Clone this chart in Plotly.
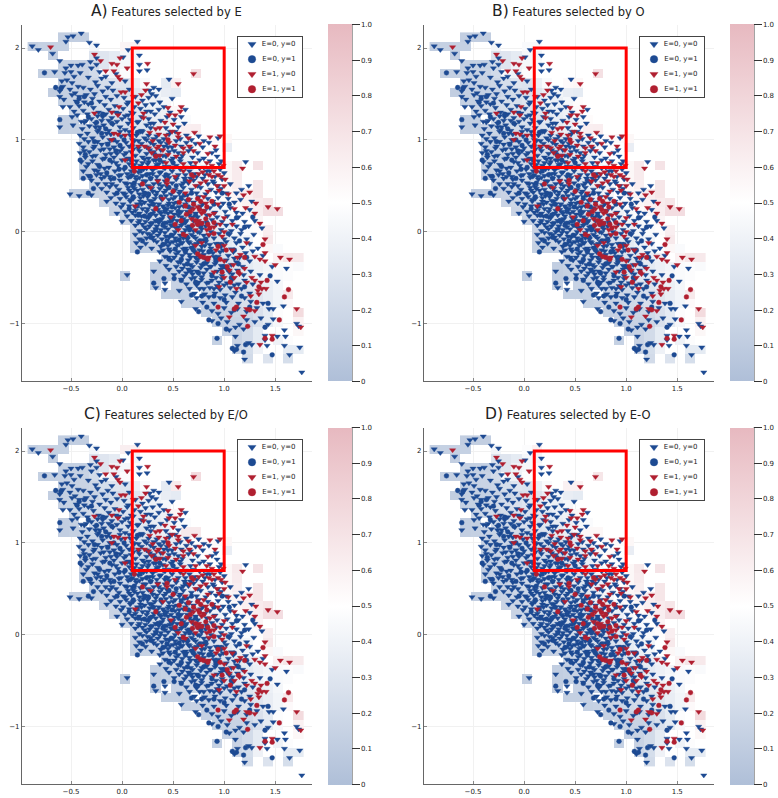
import plotly.graph_objects as go

# ---- data -----------------------------------------------------------------------
e0y0 = [(-.88,2.02),(-.82,1.98),(-.68,1.94),(-.55,2.07),(-.53,2.12),(-.48,2.13),(-.40,2.16),(-.32,2.06),(-.25,2.03),(.15,2.07),(.06,1.98),(.17,1.92),(.01,1.9),
(-.61,1.86),(-.55,1.78),(-.50,1.81),(-.43,1.81),(-.39,1.82),(-.31,1.85),(-.25,1.89),(-.25,1.82),(.17,1.82),(.17,1.75),(.245,1.76),(-.66,1.74),(-.56,1.73),(-.50,1.74),(-.41,1.73),(-.30,1.78),(-.22,1.74),(-.16,1.69),(-.06,1.72),
(-.59,1.64),(-.54,1.65),(-.49,1.62),(-.47,1.69),(-.33,1.68),(-.26,1.63),(-.2,1.67),(-.1,1.62),(.03,1.64),(.46,1.66),(-.43,1.58),(-.58,1.58),
(-.61,1.53),(-.51,1.55),(-.46,1.51),(-.38,1.57),(-.35,1.49),(-.31,1.55),(-.24,1.59),(-.19,1.53),(-.14,1.57),(-.09,1.54),(.07,1.55),(.27,1.54),(.31,1.57),(.36,1.55),(.29,1.5),(-.27,1.5),(-.42,1.47),
(-.61,1.47),(-.57,1.44),(-.49,1.49),(-.37,1.41),(-.29,1.45),(-.22,1.42),(-.16,1.47),(-.11,1.44),(-.05,1.48),(.02,1.46),(.06,1.41),(.13,1.47),(.2,1.43),(.26,1.46),(.33,1.48),(.37,1.41),(.49,1.45),(-.45,1.42),
(-.58,1.36),(-.51,1.36),(-.47,1.31),(-.42,1.37),(-.38,1.32),(-.33,1.39),(-.28,1.35),(-.23,1.3),(-.17,1.38),(-.13,1.33),(-.07,1.37),(-.03,1.29),(.01,1.34),(.05,1.39),(.09,1.3),(.12,1.36),(.18,1.34),(.23,1.38),(.28,1.31),(.3,1.39),(.36,1.33),(.41,1.36),(.47,1.3),(.62,1.33),
(-.49,1.25),(-.44,1.27),(-.4,1.2),(-.34,1.28),(-.3,1.23),(-.24,1.26),(-.2,1.21),(-.16,1.28),(-.1,1.24),(-.05,1.2),(.03,1.26),(.08,1.22),(.11,1.29),(.16,1.2),(.26,1.23),(.32,1.28),(.38,1.21),(.44,1.25),(.51,1.22),(.58,1.25),(-.35,1.21),(-.13,1.21),(.0,1.23),
(-.61,1.14),(-.48,1.16),(-.39,1.12),(-.37,1.19),(-.32,1.15),(-.26,1.18),(-.23,1.11),(-.18,1.16),(-.13,1.1),(-.09,1.17),(-.02,1.14),(.03,1.11),(.06,1.18),(.11,1.13),(.15,1.19),(.19,1.1),(.24,1.16),(.28,1.13),(.31,1.18),(.43,1.13),(.47,1.09),(.55,1.14),(.61,1.18),
(-.41,1.05),(-.37,1.01),(-.34,1.07),(-.29,1.02),(-.24,1.09),(-.19,1.03),(-.15,1.07),(-.12,1.0),(-.01,1.04),(.07,1.09),(.1,1.0),(.14,1.05),(.18,1.09),(.22,1.02),(.26,1.05),(.31,1.01),(.34,1.04),(.41,1.01),(.46,1.06),(.52,1.09),(.57,1.01),(.63,1.05),(.68,1.0),(.75,1.04),(.8,.99),(.94,1.02),
(-.42,.96),(-.38,.92),(-.33,.98),(-.27,.93),(-.24,.98),(-.18,.9),(-.14,.96),(-.08,.92),(-.05,.98),(.0,.91),(.04,.97),(.07,.93),(.12,.99),(.16,.91),(.19,.96),(.24,.92),(.28,.97),(.31,.95),(.36,.99),(.41,.93),(.44,.96),(.49,.92),(.53,.99),(.58,.93),(.63,.97),(.67,.91),(.72,.96),(.79,.92),(.85,.97),(.92,.89),
(-.41,.86),(-.36,.81),(-.32,.87),(-.26,.83),(-.21,.89),(-.17,.8),(-.11,.85),(-.08,.81),(-.02,.88),(.02,.84),(.05,.79),(.09,.87),(.13,.83),(.17,.88),(.2,.81),(.24,.85),(.26,.8),(.31,.87),(.35,.83),(.38,.89),(.43,.82),(.46,.87),(.5,.8),(.55,.86),(.59,.83),(.65,.88),(.69,.81),(.74,.86),(.8,.8),(.88,.86),(.93,.82),(.97,.77),
(-.4,.76),(-.35,.71),(-.29,.77),(-.24,.73),(-.19,.79),(-.13,.7),(-.1,.76),(-.04,.72),(.0,.78),(.07,.74),(.1,.7),(.14,.77),(.18,.72),(.22,.79),(.25,.74),(.28,.7),(.31,.78),(.34,.73),(.4,.76),(.45,.71),(.48,.78),(.53,.72),(.57,.77),(.62,.7),(.67,.75),(.7,.71),(.76,.78),(.8,.7),(.86,.77),(.95,.74),(1.21,.76),
(-.38,.66),(-.33,.61),(-.27,.67),(-.21,.63),(-.17,.69),(-.12,.6),(-.07,.66),(-.03,.61),(.02,.68),(.05,.63),(.09,.66),(.13,.6),(.16,.65),(.2,.61),(.24,.69),(.27,.63),(.3,.67),(.34,.6),(.38,.65),(.42,.69),(.45,.62),(.49,.66),(.53,.59),(.57,.68),(.62,.62),(.66,.66),(.71,.63),(.76,.69),(.81,.62),(.86,.66),(.91,.6),(.96,.68),(1.0,.64),
(-.3,.56),(-.24,.52),(-.2,.58),(-.16,.52),(-.11,.57),(-.06,.5),(-.02,.56),(.03,.53),(.06,.59),(.1,.52),(.14,.57),(.18,.51),(.21,.55),(.25,.5),(.28,.58),(.31,.52),(.35,.56),(.39,.5),(.42,.55),(.46,.59),(.49,.53),(.53,.57),(.58,.51),(.61,.58),(.65,.53),(.7,.56),(.74,.5),(.79,.58),(.84,.52),(.89,.55),(.94,.5),(.98,.57),(1.06,.52),(1.24,.5),
(-.51,.41),(-.42,.39),(-.3,.4),(-.2,.47),(-.15,.43),(-.12,.49),(-.07,.41),(-.03,.46),(.01,.42),(.06,.48),(.09,.43),(.12,.47),(.17,.41),(.2,.46),(.23,.42),(.26,.49),(.3,.44),(.33,.4),(.37,.47),(.41,.43),(.44,.49),(.48,.41),(.52,.46),(.56,.42),(.6,.48),(.64,.4),(.68,.46),(.73,.42),(.77,.48),(.82,.41),(.87,.46),(.92,.43),(.97,.47),(1.02,.42),(1.12,.42),(1.17,.46),
(-.15,.33),(-.11,.37),(-.06,.31),(-.02,.36),(.01,.3),(.04,.38),(.08,.33),(.11,.36),(.15,.3),(.18,.37),(.22,.32),(.25,.38),(.29,.33),(.32,.36),(.36,.3),(.39,.35),(.43,.39),(.46,.31),(.5,.36),(.54,.32),(.58,.38),(.62,.3),(.66,.35),(.7,.32),(.75,.38),(.79,.3),(.84,.36),(.89,.33),(.94,.37),(.99,.31),(1.04,.36),(1.1,.32),(1.16,.35),(1.27,.33),
(-.05,.2),(-.01,.27),(.03,.22),(.07,.28),(.1,.21),(.13,.27),(.17,.2),(.2,.25),(.24,.22),(.27,.29),(.31,.23),(.34,.27),(.38,.2),(.41,.26),(.45,.29),(.48,.22),(.52,.26),(.56,.21),(.6,.28),(.64,.22),(.68,.26),(.72,.2),(.77,.28),(.81,.23),(.86,.26),(.91,.21),(.96,.27),(1.01,.22),(1.06,.26),(1.12,.21),(1.18,.2),(1.25,.24),
(.0,.11),(.05,.17),(.09,.12),(.13,.18),(.16,.1),(.19,.17),(.23,.11),(.26,.15),(.3,.1),(.33,.18),(.37,.13),(.4,.17),(.44,.1),(.47,.15),(.51,.19),(.54,.12),(.58,.16),(.62,.1),(.66,.18),(.7,.12),(.74,.16),(.78,.1),(.83,.18),(.88,.13),(.93,.16),(.98,.11),(1.03,.17),(1.08,.12),(1.14,.16),(1.2,.11),(1.3,.12),
(.13,.07),(.17,.01),(.2,.08),(.24,.03),(.27,.06),(.31,.0),(.34,.06),(.38,.02),(.41,.08),(.45,.03),(.48,.07),(.52,.0),(.55,.05),(.59,.09),(.62,.02),(.66,.06),(.7,.01),(.74,.08),(.78,.03),(.82,.06),(.87,.0),(.92,.08),(.97,.02),(1.02,.07),(1.07,.01),(1.12,.06),(1.17,.02),(1.24,.06),(1.37,.04),
(.13,-.03),(.17,-.08),(.2,-.01),(.24,-.07),(.28,-.03),(.31,-.09),(.35,-.04),(.39,-.08),(.42,-.01),(.46,-.06),(.5,-.03),(.53,-.1),(.57,-.04),(.6,-.01),(.64,-.08),(.68,-.03),(.72,-.07),(.76,-.01),(.8,-.09),(.85,-.04),(.9,-.07),(.95,-.02),(1.0,-.08),(1.05,-.03),(1.1,-.07),(1.16,-.02),(1.22,-.08),(1.29,-.03),
(.14,-.12),(.18,-.17),(.23,-.13),(.29,-.18),(.34,-.11),(.38,-.16),(.42,-.13),(.46,-.19),(.5,-.11),(.54,-.15),(.58,-.12),(.62,-.18),(.65,-.11),(.69,-.17),(.73,-.13),(.78,-.16),(.82,-.11),(.87,-.18),(.92,-.13),(.97,-.16),(1.02,-.11),(1.07,-.19),(1.12,-.12),(1.18,-.17),(1.25,-.13),(1.33,-.18),
(.37,-.22),(.42,-.27),(.47,-.21),(.51,-.28),(.55,-.22),(.59,-.26),(.63,-.2),(.67,-.28),(.71,-.22),(.75,-.26),(.79,-.21),(.84,-.29),(.89,-.23),(.94,-.27),(.99,-.2),(1.04,-.26),(1.09,-.22),(1.15,-.28),(1.21,-.23),(1.28,-.21),(1.38,-.26),
(.37,-.32),(.43,-.37),(.48,-.31),(.53,-.38),(.57,-.33),(.61,-.36),(.65,-.31),(.69,-.38),(.73,-.33),(.78,-.36),(.82,-.3),(.87,-.38),(.92,-.33),(.97,-.37),(1.02,-.31),(1.07,-.36),(1.12,-.33),(1.18,-.38),(1.25,-.32),(1.47,-.38),(1.61,-.40),
(.05,-.47),(.31,-.43),(.46,-.41),(.51,-.47),(.56,-.43),(.61,-.48),(.65,-.41),(.69,-.46),(.73,-.43),(.78,-.49),(.83,-.41),(.88,-.46),(.93,-.43),(.98,-.48),(1.03,-.41),(1.08,-.46),(1.13,-.42),(1.19,-.47),(1.26,-.43),(1.35,-.47),
(.42,-.56),(.58,-.52),(.63,-.57),(.68,-.51),(.73,-.58),(.78,-.52),(.83,-.56),(.88,-.53),(.93,-.59),(.98,-.51),(1.03,-.56),(1.08,-.52),(1.14,-.57),(1.2,-.53),(1.28,-.57),(1.52,-.54),
(.33,-.61),(.42,-.63),(.56,-.64),(.66,-.62),(.71,-.67),(.76,-.62),(.81,-.68),(.86,-.61),(.91,-.67),(.96,-.63),(1.01,-.69),(1.06,-.61),(1.11,-.66),(1.17,-.62),(1.25,-.67),
(.58,-.76),(.73,-.72),(.79,-.77),(.85,-.71),(.9,-.78),(.96,-.72),(1.02,-.77),(1.08,-.71),(1.14,-.78),(1.2,-.72),(1.26,-.76),(1.38,-.78),
(.72,-.84),(.88,-.86),(.94,-.89),(1.0,-.83),(1.07,-.88),(1.13,-.84),(1.22,-.87),(1.32,-.83),(1.44,-.84),(1.48,-.84),(1.58,-.81),
(.88,-.97),(.97,-.94),(1.03,-.98),(1.15,-1.01),(1.22,-.96),(1.3,-.98),(1.43,-1.01),(1.48,-.95),(1.36,-.94),(1.71,-1.0),
(1.05,-1.07),(1.11,-1.04),(1.19,-1.06),(1.59,-1.07),(1.73,-1.03),(1.11,-1.14),(1.4,-1.13),(1.4,-1.18),(1.52,-1.14),(1.6,-1.14),
(1.13,-1.24),(1.24,-1.21),(1.42,-1.24),(1.59,-1.24),(1.74,-1.26),(1.1,-1.3),(1.27,-1.23),(1.64,-1.34),(1.2,-1.39),(1.76,-1.53),
# dense core of the cloud
(-.22,1.14),(-.28,.91),(-.16,.84),(-.06,.75),(.04,.86),(.12,.73),(.21,.68),(.26,.76),(.37,.64),(.11,.49),(.17,.59),(.23,.55),(.29,.47),(.36,.52),(.43,.45),(.52,.38),(.57,.44),(.63,.34),(.03,.41),(.08,.35),(.15,.45),(.21,.39),(.27,.34),(.34,.43),(.4,.28),(.46,.35),(.51,.31),(.56,.27),(.13,.23),(.19,.3),(.24,.16),(.3,.2),(.35,.24),(.39,.14),(.45,.2),(.49,.12),(.55,.18),(.6,.14),(.65,.21),(.17,.12),(.22,.05),(.28,.09),(.33,.03),(.36,.1),(.42,.05),(.47,.11),(.53,.04),(.58,.07),(.63,.12),(.68,.05),(.25,-.02),(.3,-.06),(.37,-.01),(.43,-.05),(.47,-.12),(.52,-.07),(.56,-.14),(.6,-.07),(.66,-.12),(.7,-.05),(.75,-.11),(.8,-.04),(.4,-.2),(.45,-.15),(.53,-.24),(.6,-.19),(.66,-.25),(.7,-.14),(.76,-.2),(.81,-.15),(.87,-.21),(.45,-.28),(.55,-.33),(.59,-.4),(.67,-.36),(.72,-.28),(.77,-.39),(.83,-.34),(.9,-.27),(.96,-.22),(.63,-.45),(.71,-.5),(.8,-.45),(.85,-.55),(.92,-.5),(.97,-.41),(1.05,-.44),(1.1,-.29),(.8,-.62),(.9,-.62),(1.0,-.58),(1.1,-.58),(.1,.62),(.16,.7),(.05,.52),(-.01,.62),(-.1,.52),(-.17,.6),(-.25,.62),(.2,.75),(.3,.63),(.36,.74),(.42,.6),(.47,.7),(.55,.62),(.6,.53),(.67,.58),(.73,.6),(.83,.66),(.9,.53),(.06,.8),(.11,.9),(-.05,.85),(-.12,.9),(-.2,.95),(-.29,.82),(-.37,.88),(-.33,.74),(-.24,.66),(.16,.99),(.27,.89),(.33,.78),(.4,.83),(.51,.88),(.57,.8),(.45,.92),(.38,.97),(.24,1.0),(.08,1.05),(-.02,1.09),(-.11,1.06),(-.26,1.14),(-.19,1.25),(-.06,1.3),(.06,1.27),(.19,1.25),(.24,1.31),(.2,1.09),(.28,1.18),
(.07,.45),(.18,.33),(.31,.3),(.44,.25),(.58,.22),(.69,.16),(.25,.25),(.37,.22),(.5,.15),(.64,.05),(.74,.0),(.33,.12),(.41,.1),(.59,-.12),(.68,-.18),(.74,-.3),(.8,-.25),(.86,-.14),(.91,-.35),(.95,-.13),(.68,-.43),(.75,-.55),(.86,-.38),(.95,-.55)]

e0y1 = [(-.76,1.73),(-.65,1.57),(-.61,1.22),(-.6,1.56),(-.42,1.45),(-.37,1.47),(-.3,1.4),(-.19,1.28),(-.1,1.18),(-.27,.98),(-.2,1.07),(-.14,.95),(-.06,.88),(-.02,.94),(.1,.94),(-.44,1.41),(-.33,1.25),(-.25,1.19),(-.16,1.12),(-.08,1.0),(.02,1.0),(.15,1.08),
(-.41,.78),(-.36,.84),(-.31,.6),(-.28,.47),(-.22,.71),(-.15,.64),(-.08,.58),(.03,.7),(.08,.6),(.12,.53),(.18,.66),(.22,.42),(.28,.58),(.33,.7),(.37,.78),(.43,.62),(.46,.48),(.53,.5),(.58,.36),(.62,.56),(.68,.42),(-.38,.58),(-.12,.78),(-.03,.68),(.09,.78),(.24,.62),(.32,.84),(.41,.7),(.5,.75),
(-.33,.42),(-.05,.42),(.07,.25),(.15,.28),(.22,.17),(.3,.3),(.35,.12),(.42,.22),(.5,.07),(.55,.22),(.6,.1),(.66,.02),(.72,.18),(.83,.1),(.9,.3),(.98,.42),(1.05,.3),(1.12,.15),(1.2,.05),(1.28,.16),(.11,.38),(.16,.18),(.26,.41),(.38,.38),(.49,.27),(.61,.4),(.65,.27),(.27,.18),(.4,.07),(.77,.06),
(.15,-.22),(.2,-.1),(.28,-.06),(.33,.02),(.4,-.14),(.48,-.04),(.52,-.19),(.58,-.3),(.64,-.06),(.7,-.2),(.76,-.1),(.85,-.22),(.92,-.3),(.98,-.14),(1.04,-.02),(1.1,-.2),(1.15,-.1),(1.22,-.28),(.44,-.1),(.56,-.09),(.62,-.22),(.82,-.08),
(.31,-.56),(.41,-.51),(.46,-.3),(.51,-.51),(.58,-.53),(.66,-.42),(.72,-.55),(.8,-.35),(.88,-.48),(.94,-.6),(1.0,-.38),(1.07,-.5),(1.14,-.35),(1.2,-.6),(1.45,-.48),(.64,-.35),(.75,-.45),
(.68,-.69),(.75,-.87),(.78,-.7),(.83,-.82),(.85,-.96),(.94,-1.0),(.9,-.7),(1.0,-.74),(1.1,-.85),(1.17,-.7),(1.43,-.78),(1.25,-.82),
(.93,-1.16),(1.08,-1.27),(1.19,-1.31),(1.21,-1.23),(1.47,-1.34),(1.4,-1.04),(1.12,-1.28),(1.02,-1.06)]

e1y0 = [(-.70,2.01),(-.27,1.93),(-.21,1.86),(-.02,1.89),(-.1,1.83),(-.05,1.82),(.05,1.78),(-.16,1.75),(-.08,1.75),(-.04,1.69),(-.02,1.66),(.25,1.83),(.70,1.72),(.55,1.61),(.24,1.61),(.23,1.54),(.19,1.49),(.11,1.47),(-.01,1.52),(.03,1.52),(.16,1.4),
(-.27,1.29),(-.1,1.3),(-.03,1.36),(-.04,1.27),(.21,1.29),(.21,1.24),(.45,1.35),(.52,1.27),(.58,1.36),(.57,1.31),(.46,1.27),(.37,1.13),(.5,1.17),(.42,1.19),(.27,1.08),(.33,1.12),(.36,1.06),(.49,1.09),(.43,1.05),(.55,1.07),
(-.08,1.07),(-.04,1.06),(.03,1.05),(-.1,1.0),(.71,1.08),(.86,1.03),(.96,1.04),(.76,.96),(.91,.93),(.83,.75),(.03,.78),(.22,.93),(.26,.91),(.34,.91),(.4,.89),(.46,.97),(.55,1.03),(.65,1.02),(.6,.91),(.7,.88),(.84,.85),(.43,.75),(.5,.7),(.6,.74),(.72,.75),(.88,.72),(.16,.93),(.3,.99),(.36,.93),(.52,.94),(.66,.93),(.29,.86),(.37,.83),(.45,.84),(.53,.82),(.6,.86),
(1.01,.57),(1.18,.69),(1.25,.43),(1.04,.41),(.99,.72),(.94,.62),(.88,.6),(.79,.65),(.7,.6),(.6,.66),(.52,.6),(.44,.52),(.35,.55),(.28,.48),(.4,.36),(.62,.42),(.72,.5),(.84,.44),(.93,.5),(1.0,.5),(1.19,.4),(.75,.63),(.82,.55),(.9,.66),(.97,.6),(.66,.55),(.85,.62),(.77,.53),(.95,.45),
(.13,.28),(.48,.16),(.68,.14),(.74,.27),(.82,.31),(.9,.2),(.96,.08),(1.1,.25),(1.21,.26),(1.3,.2),(1.31,.31),(1.35,.09),(1.43,.27),(1.52,.25),(.72,.02),(.85,-.03),(.78,-.12),(.62,-.04),(.55,.02),(1.4,-.08),(1.4,-.23),(1.5,-.36),(1.4,-.32),(1.35,-.3),(1.55,-.28),(1.64,-.3),(.92,-.2),(1.0,-.32),(1.13,-.28),(1.3,-.27),(.7,.25),(.78,.2),(.86,.18),(.94,.3),(.8,.38),(.75,.12),(.9,.05),(.83,.02),(1.0,.15),(1.08,.08),
(.9,-.44),(1.0,-.5),(1.2,-.4),(1.27,-.5),(1.3,-.53),(1.36,-.55),(1.37,-.62),(1.41,-.62),(1.33,-.64),(1.34,-.68),(1.26,-.7),(1.12,-.62),(1.71,-.84),(1.75,-1.04),(1.47,-1.13),(1.35,-1.23),(1.05,-.93),(1.19,-.92),(1.3,-.86),(1.22,-.84),(1.09,-.36),(1.15,-.46),(.85,-.28),(.72,-.15),
(1.0,-.15),(1.08,-.2),(1.16,-.25),(.98,-.05),(1.22,-.12),(1.1,-.5),(.95,-.6),(1.05,-.42),(1.22,-.55),(1.0,.0)]

e1y1 = [(.45,1.0),(.33,.82),(.12,.66),(.2,.52),(.44,.56),(.5,.44),(.56,.32),(.62,.28),(.65,.35),(.7,.3),(.74,.36),(.76,.24),(.72,.12),(.8,.22),(.82,.14),(.78,.09),(.86,.04),(.84,.08),(.9,.1),(.88,.33),(.68,.62),(.33,.25),(.52,.08),(.6,-.03),(.58,.12),(.67,.22),(.63,.19),(.77,.33),(.83,.27),(.69,.07),(.74,.08),
(.9,-.02),(.74,-.24),(.8,-.28),(.84,-.3),(.96,-.3),(.98,-.44),(1.03,-.38),(1.06,-.55),(1.14,-.44),(1.2,-.28),(1.38,-.14),(1.42,-.53),(1.32,-.77),(1.34,-.6),(1.63,-.63),(1.59,-.71),(1.54,-.96),(1.23,-1.03),(.94,-.82),(1.12,-.82),(1.1,-.84),(1.25,-.85),(1.4,-1.16),(1.47,-1.17),(.77,-.27),(.94,-.16),(1.02,-.2)]

series_names = ["E=0, y=0", "E=0, y=1", "E=1, y=0", "E=1, y=1"]
series_points = [e0y0, e0y1, e1y0, e1y1]
series_symbols = ["triangle-down", "circle", "triangle-down", "circle"]
series_colors = ["#1d4a92", "#1d4a92", "#b01f30", "#b01f30"]

_ = None
# heat-map cells: [first column, percent values ...], one row per y bin, top row first
heat_rows = [
[3,12,12,12],
[0,12,14,14,14,_,_,42,_,_,58,60],
[2,12,_,_,_,28,30,34,44,42],
[3,14,14,14,22,30,40,44,46],
[1,13,13,14,15,16,22,46,40,48,_,_,_,_,_,_,72],
[3,14,15,16,18,24,30,28,38,46,_,34,60],
[2,12,13,14,14,16,20,22,26,30,36,42,36,34],
[3,14,14,18,22,24,26,30,34,40,38,44],
[4,18,20,22,24,26,28,30,34,38,40,56],
[3,12,13,_,20,22,24,26,28,32,36,40,44,47],
[3,12,13,15,17,19,22,24,28,30,34,38,46,62,63],
[5,15,16,18,20,22,24,26,28,30,34,40,50,53,54,56],
[5,14,15,17,19,21,23,25,28,30,34,40,46,52,50,36],
[5,13,15,16,18,20,22,24,26,30,34,38,44,50,50,50],
[5,12,14,16,18,20,22,24,26,28,32,36,42,48,52,56,66,_,70],
[5,12,14,16,18,20,22,24,26,28,30,34,40,46,52,56,64],
[6,14,16,18,20,22,24,26,28,30,34,38,44,50,56,62,_,68],
[4,12,12,14,16,18,20,22,24,26,28,30,34,38,44,50,56,58,62,68],
[7,16,18,20,22,24,26,28,30,32,36,40,46,52,56,60,64,68],
[8,16,18,20,22,24,26,28,30,32,36,40,46,52,56,62,74,74],
[9,16,18,20,22,24,26,28,30,34,38,42,46,50,58],
[10,16,18,20,22,24,26,28,30,34,38,42,46,52,62],
[10,16,16,18,20,22,24,26,28,30,34,38,42,50,66],
[10,14,14,16,18,20,22,24,26,30,34,38,42,50,56,46],
[13,16,18,20,22,24,26,28,32,36,40,50,60,68,66],
[12,12,14,16,18,20,22,24,26,30,34,38,42,46,48,46],
[9,12,_,_,12,14,16,18,20,22,24,28,32,36,40,44,46,48],
[12,13,_,15,16,18,20,22,24,26,30,34,38,44,50],
[13,13,13,15,_,16,18,20,22,26,30,36,42,66],
[15,14,15,16,18,20,22,26,30,36,42,54],
[17,14,15,16,18,20,26,34,48,_,76],
[18,14,15,16,18,26,34,44,_,60],
[19,15,16,22,34,_,_,_,56],
[18,14,_,16,22,34,_,40,48],
[20,18,24,40,_,_,34,34],
[21,22,_,28,_,24],
]
heat_x = [-.875, -.775, -.675, -.575, -.475, -.375, -.275, -.175, -.075, .025, .125, .225, .325, .425,
          .525, .625, .725, .825, .925, 1.025, 1.125, 1.225, 1.325, 1.425, 1.525, 1.625, 1.725]
heat_y = [2.12, 2.02, 1.92, 1.82, 1.72, 1.62, 1.52, 1.42, 1.32, 1.22, 1.12, 1.02, .92, .82, .72, .62, .52, .42,
          .32, .22, .12, .02, -.08, -.18, -.28, -.38, -.48, -.58, -.68, -.78, -.88, -.98, -1.08, -1.18, -1.28, -1.38]
# cells that differ from panel A: (row, column, percent)
heat_changes = [
    [],
    [(1,9,46),(1,10,46),(5,13,54),(5,14,56),(8,14,54),(9,15,53),(7,14,52)],
    [(1,9,62),(1,10,60),(4,16,76),(2,9,50),(5,14,64),(10,15,66),(10,16,66)],
    [(1,9,48),(5,13,60),(5,14,60),(4,16,68),(10,15,56),(10,16,56),(8,14,56)],
]
panel_letters = ["A)", "B)", "C)", "D)"]
panel_titles = ["Features selected by E", "Features selected by O", "Features selected by E/O", "Features selected by E-O"]
selection_x = [0.1, 1.0]
selection_y = [0.7, 2.0]
colorbar_ticks = [0, .1, .2, .3, .4, .5, .6, .7, .8, .9, 1]
colorbar_labels = ["0", "0.1", "0.2", "0.3", "0.4", "0.5", "0.6", "0.7", "0.8", "0.9", "1.0"]

# ---- layout in pixels ------------------------------------------------------------
W, H = 778, 798
panel_dx = [0, 402, 0, 402]
panel_dy = [0, 0, 403, 403]
title_cx = [166, 568, 165.5, 568]
FONT = "DejaVu Sans"
fig = go.Figure()
layout = dict(width=W, height=H, margin=dict(l=0, r=0, t=0, b=0), paper_bgcolor="white", plot_bgcolor="white",
              showlegend=False, font=dict(family=FONT, size=7, color="#222"))
shapes, annots = [], []

def build_z(changes):
    grid = [[None]*len(heat_x) for _row in heat_y]
    for r, row in enumerate(heat_rows):
        for i, v in enumerate(row[1:]):
            if v is not None:
                grid[r][row[0]+i] = v/100
    for r, c, v in changes:
        grid[r][c] = v/100
    return grid

for p in range(4):
    dx, dy = panel_dx[p], panel_dy[p]
    sfx = "" if p == 0 else str(p+1)
    xa, ya = "x"+sfx, "y"+sfx
    left, right, top, bottom = 22+dx, 312+dx, 24.5+dy, 381+dy
    axis_common = dict(showline=True, linecolor="#666", linewidth=1.2, gridcolor="#f1f1f1", gridwidth=1,
                       ticks="inside", ticklen=3, tickcolor="#888", tickwidth=0.6, zeroline=False,
                       tickfont=dict(family=FONT, size=7, color="#222"), layer="above traces")
    layout["xaxis"+sfx] = dict(domain=[left/W, right/W], range=[-.98, 1.86], anchor=ya,
                               tickvals=[-.5, 0, .5, 1, 1.5], ticktext=["\u22120.5", "0.0", "0.5", "1.0", "1.5"], **axis_common)
    layout["yaxis"+sfx] = dict(domain=[1-bottom/H, 1-top/H], range=[-1.625, 2.256], anchor=xa,
                               tickvals=[-1, 0, 1, 2], ticktext=["\u22121", "0", "1", "2"], **axis_common)
    fig.add_trace(go.Heatmap(x=heat_x, y=heat_y, z=build_z(heat_changes[p]), xaxis=xa, yaxis=ya, zmin=0, zmax=1,
        colorscale=[[0, "#afbfd8"], [.5, "#ffffff"], [1, "#e7b9c0"]], hoverongaps=False,
        colorbar=dict(x=(328+dx)/W, xanchor="left", y=1-top/H, yanchor="top", len=(bottom-top)/H, lenmode="fraction",
                      thickness=24, thicknessmode="pixels", xpad=0, ypad=0, outlinewidth=0, ticks="outside", ticklen=8,
                      tickwidth=1, tickcolor="#333", tickvals=colorbar_ticks, ticktext=colorbar_labels,
                      tickfont=dict(family=FONT, size=7, color="#222"))))
    for name, pts, sym, col in zip(series_names, series_points, series_symbols, series_colors):
        size = 5.4 if sym == "triangle-down" else 4.8
        fig.add_trace(go.Scatter(x=[q[0] for q in pts], y=[q[1] for q in pts], mode="markers", xaxis=xa, yaxis=ya,
            name=name, marker=dict(symbol=sym, size=size, color=col, line=dict(width=.4, color=col))))
    # legend box: a small inset axes with one row per series
    lx, ly = "x"+str(p+5), "y"+str(p+5)
    lkey = dict(showline=True, mirror=True, linecolor="#444", linewidth=1.2, showgrid=False, zeroline=False,
                showticklabels=False, ticks="", fixedrange=True)
    layout["xaxis"+str(p+5)] = dict(domain=[(238+dx)/W, (302+dx)/W], range=[-14, 50], anchor=ly, **lkey)
    layout["yaxis"+str(p+5)] = dict(domain=[1-(96.7+dy)/H, 1-(36.7+dy)/H], type="category", categoryorder="array",
                                    categoryarray=series_names, range=[3.5, -.5], anchor=lx, **lkey)
    for name, sym, col in zip(series_names, series_symbols, series_colors):
        fig.add_trace(go.Scatter(x=[0], y=[name], mode="markers+text", xaxis=lx, yaxis=ly, text=["  " + name],
            textposition="middle right", textfont=dict(family=FONT, size=7, color="#222"), name=name, cliponaxis=False,
            marker=dict(symbol=sym, size=7.5 if sym == "circle" else 7, color=col, line=dict(width=.4, color=col))))
    shapes.append(dict(type="rect", xref=xa, yref=ya, x0=selection_x[0], x1=selection_x[1], y0=selection_y[0], y1=selection_y[1],
                       line=dict(color="#ff0000", width=3), fillcolor="rgba(0,0,0,0)", layer="above"))
    shapes.append(dict(type="line", xref="paper", yref="paper", x0=(352+dx)/W, x1=(352+dx)/W, y0=1-bottom/H, y1=1-top/H,
                       line=dict(color="#666", width=1.2)))
    annots.append(dict(xref="paper", yref="paper", x=title_cx[p]/W, y=1-(10.5+dy)/H, xanchor="center", yanchor="middle", showarrow=False,
                       text='<span style="font-size:15.5px">%s</span> %s' % (panel_letters[p], panel_titles[p]),
                       font=dict(family=FONT, size=11.5, color="#222")))

layout["shapes"] = shapes
layout["annotations"] = annots
fig.update_layout(**layout)
fig.write_html("out.html", config=dict(displayModeBar=False),
               post_script="document.body.style.margin='0';document.body.style.overflow='hidden';")
